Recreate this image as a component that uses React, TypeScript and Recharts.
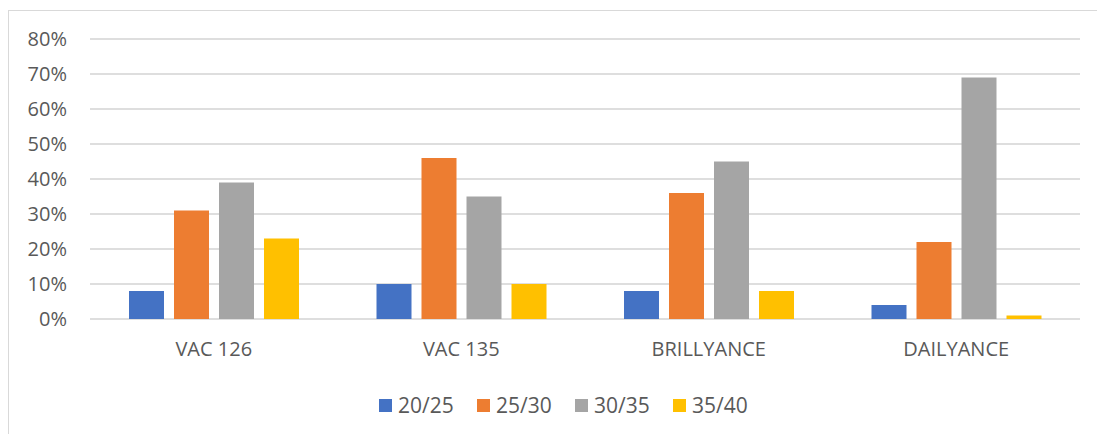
import { BarChart, Bar, XAxis, YAxis, CartesianGrid, Legend } from 'recharts';

const categories = ['VAC 126', 'VAC 135', 'BRILLYANCE', 'DAILYANCE'];
const s2025 = [8, 10, 8, 4];
const s2530 = [31, 46, 36, 22];
const s3035 = [39, 35, 45, 69];
const s3540 = [23, 10, 8, 1];
const yTicks = [0, 10, 20, 30, 40, 50, 60, 70, 80];

const series = [
  { key: '20/25', values: s2025, color: '#4472C4' },
  { key: '25/30', values: s2530, color: '#ED7D31' },
  { key: '30/35', values: s3035, color: '#A5A5A5' },
  { key: '35/40', values: s3540, color: '#FFC000' },
];

const data = categories.map((name, i) => {
  const row: Record<string, string | number> = { name };
  series.forEach((s) => { row[s.key] = s.values[i]; });
  return row;
});

const FONT = '"Open Sans", "Liberation Sans", sans-serif';
const TEXT = '#595959';

function LegendContent() {
  return (
    <div style={{ display: 'flex', fontFamily: FONT, fontSize: 21, color: TEXT, lineHeight: '26px' }}>
      {series.map((s) => (
        <div key={s.key} style={{ display: 'flex', alignItems: 'center', width: 98 }}>
          <span style={{ width: 13, height: 13, background: s.color, display: 'inline-block', marginRight: 6 }} />
          <span>{s.key}</span>
        </div>
      ))}
    </div>
  );
}

export default function App() {
  return (
    <>
      <style>{'body{margin:0;overflow:hidden}'}</style>
      <div
        style={{
          marginLeft: 8,
          marginTop: 10,
          width: 1089,
          height: 424,
          borderTop: '1px solid #d9d9d9',
          borderLeft: '1px solid #d9d9d9',
          boxSizing: 'border-box',
          background: '#fff',
        }}
      >
        <BarChart
          width={1088}
          height={423}
          data={data}
          barSize={35}
          barGap={10}
          margin={{ top: 28, right: 17, left: 0, bottom: 55 }}
        >
          <CartesianGrid vertical={false} stroke="#dedede" strokeWidth={2} />
          <XAxis
            dataKey="name"
            axisLine={false}
            tickLine={false}
            tickSize={0}
            tickMargin={23}
            height={60}
            tick={{ fontSize: 20, fill: TEXT, fontFamily: FONT }}
          />
          <YAxis
            domain={[0, 80]}
            ticks={yTicks}
            width={81}
            axisLine={false}
            tickLine={false}
            tickSize={0}
            tickMargin={23}
            tickFormatter={(v: number) => `${v}%`}
            tick={{ fontSize: 20, fill: TEXT, fontFamily: FONT }}
          />
          <Legend
            layout="horizontal"
            verticalAlign="middle"
            align="center"
            wrapperStyle={{ top: 381, left: 370, width: 'auto' }}
            content={() => <LegendContent />}
          />
          {series.map((s) => (
            <Bar key={s.key} dataKey={s.key} fill={s.color} isAnimationActive={false} />
          ))}
        </BarChart>
      </div>
    </>
  );
}
